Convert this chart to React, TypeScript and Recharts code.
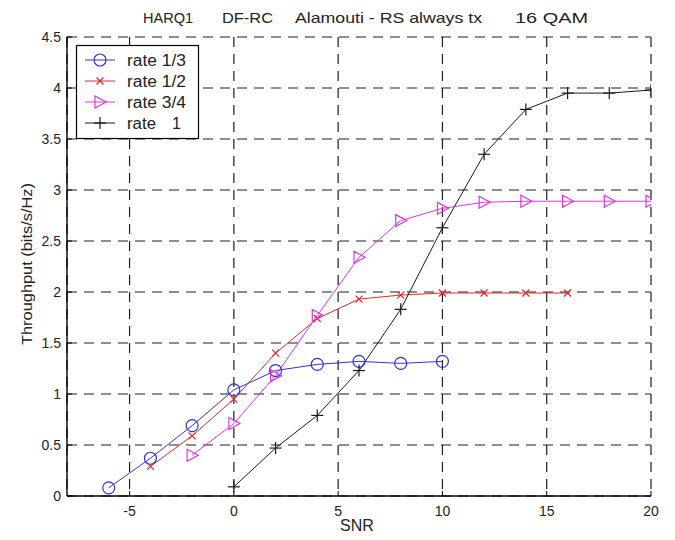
import React from 'react';
import { LineChart, Line, XAxis, YAxis, CartesianGrid } from 'recharts';

const snr = [-6, -4, -2, 0, 2, 4, 6, 8, 10, 12, 14, 16, 18, 20];
const rate13 = [0.08, 0.37, 0.69, 1.04, 1.23, 1.29, 1.32, 1.3, 1.32, null, null, null, null, null];
const rate12 = [null, 0.29, 0.59, 0.95, 1.4, 1.74, 1.93, 1.97, 1.99, 1.99, 1.99, 1.99, null, null];
const rate34 = [null, null, 0.4, 0.71, 1.18, 1.77, 2.34, 2.7, 2.82, 2.88, 2.89, 2.89, 2.89, 2.89];
const rate1 = [null, null, null, 0.09, 0.47, 0.79, 1.23, 1.83, 2.63, 3.35, 3.79, 3.95, 3.95, 3.98];

const xTicks = [-5, 0, 5, 10, 15, 20];
const yTicks = [0, 0.5, 1, 1.5, 2, 2.5, 3, 3.5, 4, 4.5];

const seriesNames = ['rate 1/3', 'rate 1/2', 'rate 3/4', 'rate'];
const titleParts = ['HARQ1', 'DF-RC', 'Alamouti - RS always tx', '16 QAM'];

const data = snr.map((s, i) => ({ snr: s, r13: rate13[i], r12: rate12[i], r34: rate34[i], r1: rate1[i] }));

const BLUE = '#3232d2';
const RED = '#e02a2a';
const MAG = '#e035e0';
const BLK = '#1a1a1a';
const FONT = '"Liberation Sans", Arial, sans-serif';

function Marker({ kind, cx, cy, color }: any) {
  if (kind === 'o') return <circle cx={cx} cy={cy} r={6} fill="none" stroke={color} strokeWidth={1.2} />;
  if (kind === 'x')
    return (
      <g stroke={color} strokeWidth={1.2}>
        <line x1={cx - 3.5} y1={cy - 3.5} x2={cx + 3.5} y2={cy + 3.5} />
        <line x1={cx - 3.5} y1={cy + 3.5} x2={cx + 3.5} y2={cy - 3.5} />
      </g>
    );
  if (kind === '>')
    return (
      <polygon
        points={`${cx - 5},${cy - 6} ${cx + 6},${cy} ${cx - 5},${cy + 6}`}
        fill="none"
        stroke={color}
        strokeWidth={1.2}
      />
    );
  return (
    <g stroke={color} strokeWidth={1.2}>
      <line x1={cx - 6} y1={cy} x2={cx + 6} y2={cy} />
      <line x1={cx} y1={cy - 6} x2={cx} y2={cy + 6} />
    </g>
  );
}

const mk = (kind: string, color: string) => (p: any) => {
  const { cx, cy, index, value } = p;
  if (cx == null || cy == null || value == null || isNaN(cy)) return <g key={`e${index}`} />;
  return <Marker key={`m${index}`} kind={kind} cx={cx} cy={cy} color={color} />;
};

const tickStyle = { fill: '#222', fontSize: 14, fontFamily: FONT };

export default function App() {
  const legendRows = [
    { name: seriesNames[0], kind: 'o', color: BLUE, y: 60, len: 59 },
    { name: seriesNames[1], kind: 'x', color: RED, y: 81, len: 59 },
    { name: seriesNames[2], kind: '>', color: MAG, y: 102, len: 59 },
    { name: seriesNames[3], kind: '+', color: BLK, y: 123, len: 29 },
  ];
  const titleX = [143, 222, 295, 515];
  const titleLen = [50, 51, 187, 73];
  return (
    <div style={{ position: 'absolute', left: 0, top: 0, width: 675, height: 540, background: '#fff' }}>
      <LineChart width={675} height={540} data={data} margin={{ top: 37, right: 24, bottom: 0, left: 0 }}>
        <CartesianGrid stroke="#1e1e1e" strokeWidth={1.2} strokeDasharray="10 7" />
        <XAxis
          dataKey="snr"
          type="number"
          domain={[-8, 20]}
          ticks={xTicks}
          height={44}
          tickSize={-5}
          tickMargin={15}
          allowDataOverflow
          axisLine={{ stroke: '#000', strokeWidth: 1.4 }}
          tickLine={{ stroke: '#000' }}
          tick={tickStyle}
        />
        <XAxis
          xAxisId="top"
          orientation="top"
          type="number"
          domain={[-8, 20]}
          ticks={xTicks}
          height={0}
          tickSize={-5}
          tick={false}
          axisLine={{ stroke: '#000', strokeWidth: 1.4 }}
          tickLine={{ stroke: '#000' }}
        />
        <YAxis
          type="number"
          domain={[0, 4.5]}
          ticks={yTicks}
          width={67}
          tickSize={-5}
          tickMargin={11}
          axisLine={{ stroke: '#000', strokeWidth: 1.4 }}
          tickLine={{ stroke: '#000' }}
          tick={tickStyle}
        />
        <YAxis
          yAxisId="right"
          orientation="right"
          type="number"
          domain={[0, 4.5]}
          ticks={yTicks}
          width={0}
          tickSize={-5}
          tick={false}
          axisLine={{ stroke: '#000', strokeWidth: 1.4 }}
          tickLine={{ stroke: '#000' }}
        />
        <Line dataKey="r13" stroke={BLUE} strokeWidth={1} dot={mk('o', BLUE)} isAnimationActive={false} />
        <Line dataKey="r12" stroke={RED} strokeWidth={1} dot={mk('x', RED)} isAnimationActive={false} />
        <Line dataKey="r34" stroke={MAG} strokeWidth={1} dot={mk('>', MAG)} isAnimationActive={false} />
        <Line dataKey="r1" stroke={BLK} strokeWidth={1} dot={mk('+', BLK)} isAnimationActive={false} />
      </LineChart>
      <svg
        width={675}
        height={540}
        style={{ position: 'absolute', left: 0, top: 0, pointerEvents: 'none' }}
        fontFamily={FONT}
      >
        {titleParts.map((t, i) => (
          <text
            key={t}
            x={titleX[i]}
            y={23}
            fontSize={15}
            fill="#222"
            textLength={titleLen[i]}
            lengthAdjust="spacingAndGlyphs"
          >
            {t}
          </text>
        ))}
        <text x={357} y={531} textAnchor="middle" fontSize={16} fill="#222">
          SNR
        </text>
        <text
          transform="translate(32,264) rotate(-90)"
          x={-81}
          y={0}
          fontSize={15}
          fill="#222"
          textLength={162}
          lengthAdjust="spacingAndGlyphs"
        >
          Throughput (bits/s/Hz)
        </text>
        <rect x={76.5} y={45.5} width={122} height={93} fill="#fff" stroke="#000" strokeWidth={1.2} />
        {legendRows.map((r, i) => (
          <g key={r.name + i}>
            <line x1={85} y1={r.y} x2={115} y2={r.y} stroke={r.color} strokeWidth={1} />
            <Marker kind={r.kind} cx={100} cy={r.y} color={r.color} />
            <text
              x={127}
              y={r.y + 6}
              fontSize={16}
              fill="#222"
              textLength={r.len}
              lengthAdjust="spacingAndGlyphs"
            >
              {r.name}
            </text>
            {i === 3 ? (
              <text x={172} y={r.y + 6} fontSize={16} fill="#222">
                1
              </text>
            ) : null}
          </g>
        ))}
      </svg>
    </div>
  );
}
